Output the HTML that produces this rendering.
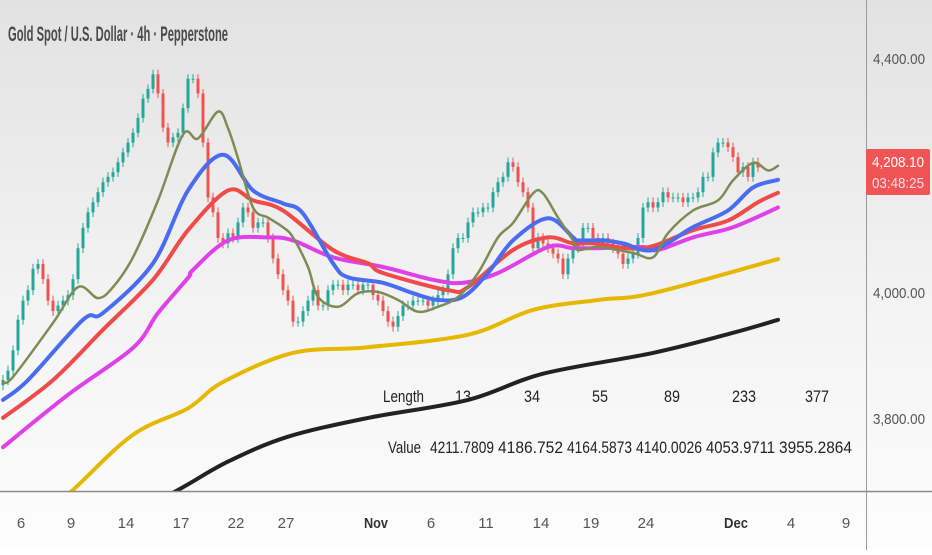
<!DOCTYPE html>
<html><head><meta charset="utf-8"><style>
html,body{margin:0;padding:0;}
body{width:932px;height:550px;overflow:hidden;background:#fff;font-family:"Liberation Sans",sans-serif;}
</style></head><body>
<svg id="chart" width="932" height="550" viewBox="0 0 932 550" xmlns="http://www.w3.org/2000/svg">
<defs>
<linearGradient id="bg" x1="0" y1="0" x2="0" y2="1">
<stop offset="0" stop-color="#e2e2e2"/><stop offset="0.55" stop-color="#f3f3f3"/><stop offset="1" stop-color="#fdfdfd"/>
</linearGradient>
<clipPath id="plotclip"><rect x="0" y="0" width="866" height="491"/></clipPath>
</defs>
<rect x="0" y="0" width="932" height="550" fill="url(#bg)"/>
<g id="plot" clip-path="url(#plotclip)"></g>
<line x1="866.5" y1="0" x2="866.5" y2="550" stroke="#9a9a9a" stroke-width="1"/>
<line x1="0" y1="491.5" x2="932" y2="491.5" stroke="#8a8a8a" stroke-width="1.5"/>
<g id="yaxis"></g>
<g id="xaxis"></g>
<text x="8" y="41" font-size="21" font-weight="bold" fill="#4a4a4a" textLength="220" lengthAdjust="spacingAndGlyphs">Gold Spot / U.S. Dollar · 4h · Pepperstone</text>
<g font-size="17" fill="#222">
<text x="383" y="402" textLength="41" lengthAdjust="spacingAndGlyphs">Length</text>
<text x="388" y="453" textLength="33" lengthAdjust="spacingAndGlyphs">Value</text>
<g id="tbl"></g>
</g>
<g>
<rect x="866" y="149" width="64" height="46" rx="2" fill="#f05454"/>
<text x="898" y="167" font-size="15" fill="#fff" text-anchor="middle" textLength="52" lengthAdjust="spacingAndGlyphs">4,208.10</text>
<text x="898" y="188" font-size="15" fill="#fde" text-anchor="middle" textLength="52" lengthAdjust="spacingAndGlyphs">03:48:25</text>
</g>
</svg>
<script>
const closes=[3859,3874,3906,3955,3986,4003,4038,4046,4021,3986,3969,3978,3986,3995,4021,4072,4106,4132,4149,4166,4183,4192,4200,4217,4234,4251,4268,4294,4328,4345,4371,4337,4277,4251,4260,4268,4311,4363,4363,4337,4251,4157,4132,4089,4080,4097,4089,4115,4140,4132,4106,4115,4115,4089,4055,4029,4003,3986,3952,3952,3969,3986,4003,3978,3978,4003,4012,4012,4003,4012,4012,4003,4012,4012,3995,3986,3969,3952,3944,3961,3978,3978,3986,3986,3986,3978,3986,3995,4003,4029,4072,4089,4089,4115,4132,4132,4140,4140,4166,4183,4192,4217,4209,4183,4166,4140,4072,4089,4080,4072,4063,4055,4029,4055,4072,4080,4106,4106,4089,4080,4089,4080,4072,4063,4046,4055,4063,4089,4140,4149,4140,4149,4166,4157,4157,4157,4149,4157,4157,4166,4192,4192,4234,4251,4251,4243,4226,4200,4209,4192,4217,4208];
const ma13Idx=[0,2,10,15,19,22,26,31,36,39,43,45,47,50,53,56,58,61,63,67,71,75,79,83,87,91,95,99,102,106,108,111,114,115,119,126,130,133,138,143,146,150,153,155];
const ma13Val=[3856,3864,3950,4008,3990,4008,4057,4152,4265,4258,4305,4276,4224,4140,4123,4107,4090,4041,3992,3976,3998,4000,3987,3968,3976,3992,4031,4090,4114,4164,4164,4123,4085,4069,4074,4064,4057,4097,4135,4152,4186,4216,4203,4211];
const ma34Idx=[0,5,16,20,30,37,44,50,56,60,66,69,76,82,87,92,97,102,109,114,115,120,124,130,138,145,150,155];
const ma34Val=[3828,3859,3955,3966,4047,4169,4230,4169,4147,4130,4047,4024,4015,3998,3987,3992,4031,4085,4122,4090,4085,4085,4080,4069,4107,4135,4174,4187];
const ma55Idx=[0,10,20,30,37,45,50,56,66,73,76,89,93,102,109,114,118,128,138,145,151,155];
const ma55Val=[3800,3859,3939,4020,4102,4169,4152,4135,4069,4047,4031,4003,4008,4069,4090,4080,4080,4072,4102,4118,4149,4165];
const ma89Idx=[0,13,26,31,37,38,45,53,58,66,76,86,92,99,109,114,118,128,131,138,146,155];
const ma89Val=[3755,3836,3910,3966,4023,4036,4085,4090,4085,4057,4041,4020,4015,4031,4074,4072,4072,4074,4069,4090,4107,4140];
const ma233Idx=[0,14,26,37,44,58,73,93,106,119,130,155];
const ma233Val=[3592,3690,3774,3815,3856,3902,3911,3931,3971,3987,3998,4054];
const ma377Idx=[20,35,45,57,73,93,108,130,146,155];
const ma377Val=[3630,3690,3733,3771,3800,3828,3869,3902,3934,3955];
const priceTicks=[4400,4000,3800];
const priceTickLabels=["4,400.00","4,000.00","3,800.00"];
const timeTickIdx=[3,13,24,35,46,56,74,85,96,107,117,128,146,157,168];
const timeTickLabels=["6","9","14","17","22","27","Nov","6","11","14","19","24","Dec","4","9"];
const tblLengths=["13","34","55","89","233","377"];
const tblValues=["4211.7809","4186.752","4164.5873","4140.0026","4053.9711","3955.2864"];

const NS="http://www.w3.org/2000/svg";
const NBARS=156;
function xs(i){return 3+i*(775/(NBARS-1));}
function ys(p){return 292-Math.log(p/4000)*2455;}
function mk(tag,attrs,parent){const e=document.createElementNS(NS,tag);for(const k in attrs)e.setAttribute(k,attrs[k]);parent.appendChild(e);return e;}
const plot=document.getElementById('plot');
for(let i=0;i<closes.length;i++){
  const c=closes[i];const o=i>0?closes[i-1]:c-8;
  const up=c>=o;const col=up?'#26a69a':'#ef5350';
  const hi=Math.max(o,c)+8,lo=Math.min(o,c)-8;
  const x=xs(i);
  const g=mk('g',{},plot);
  
  
  mk('line',{x1:x,x2:x,y1:ys(hi),y2:ys(lo),stroke:col,'stroke-width':1},g);
  const t=ys(Math.max(o,c)),b=ys(Math.min(o,c));
  mk('rect',{x:x-1.5,y:t,width:3,height:Math.max(1,b-t),fill:col},g);
}
function line(idx,val,col,w,name){
  const pts=idx.map((v,k)=>[xs(v),ys(val[k])]);
  let d='M'+pts[0][0].toFixed(1)+','+pts[0][1].toFixed(1);
  for(let k=0;k<pts.length-1;k++){
    const p0=pts[k-1]||pts[k],p1=pts[k],p2=pts[k+1],p3=pts[k+2]||p2;
    const c1=[p1[0]+(p2[0]-p0[0])/6,p1[1]+(p2[1]-p0[1])/6];
    const c2=[p2[0]-(p3[0]-p1[0])/6,p2[1]-(p3[1]-p1[1])/6];
    d+='C'+c1[0].toFixed(1)+','+c1[1].toFixed(1)+' '+c2[0].toFixed(1)+','+c2[1].toFixed(1)+' '+p2[0].toFixed(1)+','+p2[1].toFixed(1);
  }
  const p=mk('path',{d:d,fill:'none',stroke:col,'stroke-width':w,'stroke-linejoin':'round','stroke-linecap':'round'},plot);
  
  
}
line(ma377Idx,ma377Val,'#222222',4,'ma-377-line');
line(ma233Idx,ma233Val,'#e6b800',4,'ma-233-line');
line(ma89Idx,ma89Val,'#e040e8',4,'ma-89-line');
line(ma55Idx,ma55Val,'#f04a4a',4,'ma-55-line');
line(ma34Idx,ma34Val,'#4a6cf0',4,'ma-34-line');
line(ma13Idx,ma13Val,'#7d8c55',2.5,'ma-13-line');
const ya=document.getElementById('yaxis');
for(let k=0;k<priceTicks.length;k++){
  const t=mk('text',{x:899,y:ys(priceTicks[k])+6,'font-size':15,fill:'#555','text-anchor':'middle',textLength:52,lengthAdjust:'spacingAndGlyphs'},ya);
  
  
  t.textContent=priceTickLabels[k];
}
const xa=document.getElementById('xaxis');
for(let k=0;k<timeTickIdx.length;k++){
  const lab=timeTickLabels[k];const bold=(lab==='Nov'||lab==='Dec');
  const t=mk('text',{x:xs(timeTickIdx[k])+3,y:528,'font-size':15,fill:bold?'#333':'#555','font-weight':bold?'bold':'normal','text-anchor':'middle'},xa);
  if(bold){t.setAttribute('textLength',24);t.setAttribute('lengthAdjust','spacingAndGlyphs');}
  
  
  t.textContent=lab;
}
const tbl=document.getElementById('tbl');
const lenX=[463,532,600,672,744,817];
for(let k=0;k<tblLengths.length;k++){
  const t=mk('text',{x:lenX[k],y:402,'text-anchor':'middle','font-size':17,textLength:tblLengths[k].length*8,lengthAdjust:'spacingAndGlyphs'},tbl);
  
  
  t.textContent=tblLengths[k];
}
const valX=[430,498,567,636,706,779];
const valW=[64,65,65,66,69,73];
for(let k=0;k<tblValues.length;k++){
  const t=mk('text',{x:valX[k],y:453,textLength:valW[k],lengthAdjust:'spacingAndGlyphs'},tbl);
  
  
  t.textContent=tblValues[k];
}
</script>
</body></html>
